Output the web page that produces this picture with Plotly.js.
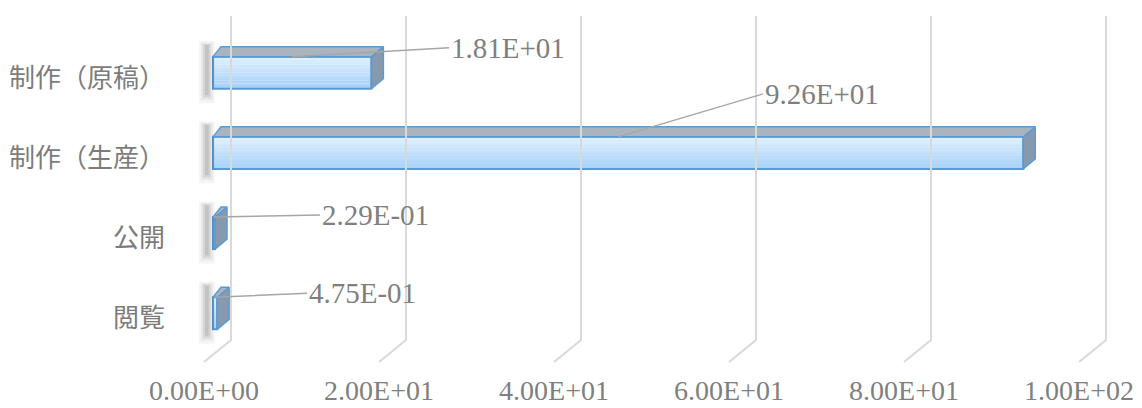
<!DOCTYPE html>
<html>
<head>
<meta charset="utf-8">
<script src="https://cdn.plot.ly/plotly-3.0.1.min.js"></script>
<style>html,body{margin:0;padding:0;background:#fff}#chart{width:1142px;height:408px}</style>
</head>
<body>
<div id="chart"></div>
<script>
// ---- data ----
const categories = ['制作（原稿）', '制作（生産）', '公開', '閲覧'];
const values = [18.1, 92.6, 0.229, 0.475];
const dataLabels = ['1.81E+01', '9.26E+01', '2.29E-01', '4.75E-01'];
const xTicks = [0, 20, 40, 60, 80, 100];
const xTickLabels = ['0.00E+00', '2.00E+01', '4.00E+01', '6.00E+01', '8.00E+01', '1.00E+02'];

// ---- layout constants (style / geometry of the 3D look) ----
const PX = 8.75;          // px per x unit
const PY = 80.2;          // px per category
const Y0 = 77.5;          // px of first category
const yv = p => (p - Y0) / PY;        // pixel row -> y value
const BAR_W = 0.4, BAR_OFF = -0.26;
const DXL = 8 / PX, DXR = 12 / PX, DY = 10 / PY;  // bar depth
const WALL = 27 / PX;     // back wall shift vs floor front
const labelOffsets = [[157, -9], [145, -43], [106, -2], [92, -4]];
const idx = categories.map((_, i) => i);

const traces = [];

// gridlines (back wall + floor) on the floor axis x2
const gx = [], gy = [];
xTicks.forEach(v => {
  gx.push(v + WALL, v + WALL, v, null);
  gy.push(yv(16), yv(340), yv(362), null);
});
traces.push({type: 'scatter', mode: 'lines', x: gx, y: gy, xaxis: 'x2', yaxis: 'y',
  line: {color: '#d9d9d9', width: 2}, hoverinfo: 'skip', showlegend: false});

// soft shadows left of bars (layered for a blur look)
[[16, 0.04, 0.10], [12, 0.05, 0.06], [8, 0.07, 0.03], [4, 0.09, 0.0]].forEach(([w, a, ext]) => {
  const sx = [], sy = [];
  idx.forEach(i => {
    sx.push(-0.7, -0.7, null);
    sy.push(i + BAR_OFF - DY - 0.02 - ext * 0.5, i + BAR_OFF + BAR_W + 0.08 + ext, null);
  });
  traces.push({type: 'scatter', mode: 'lines', x: sx, y: sy,
    line: {color: `rgba(0,0,0,${a})`, width: w, shape: 'linear'},
    hoverinfo: 'skip', showlegend: false});
});

// side and top faces
idx.forEach(i => {
  const v = values[i];
  const top = i + BAR_OFF, bot = i + BAR_OFF + BAR_W;
  traces.push({type: 'scatter', mode: 'lines', fill: 'toself', fillcolor: '#8699ae',
    x: [v, v + DXR, v + DXR, v, v], y: [top, top - DY, bot - DY, bot, top],
    line: {color: '#5b9bd5', width: 1.5}, hoverinfo: 'skip', showlegend: false});
  traces.push({type: 'scatter', mode: 'lines', fill: 'toself', fillcolor: '#a9b4bf',
    x: [0, v, v + DXR, DXL, 0], y: [top, top, top - DY, top - DY, top],
    line: {color: '#5b9bd5', width: 1.5}, hoverinfo: 'skip', showlegend: false});
});

// front face as gradient strips
const N = 12;
const c0 = [222, 239, 254], c1 = [166, 209, 248];
for (let k = 0; k < N; k++) {
  const t = k / (N - 1);
  const c = c0.map((a, j) => Math.round(a + (c1[j] - a) * t));
  traces.push({type: 'bar', orientation: 'h', x: values, y: idx,
    width: BAR_W / N + 0.002, offset: BAR_OFF + k * BAR_W / N,
    marker: {color: `rgb(${c.join(',')})`, line: {width: 0}},
    hoverinfo: 'skip', showlegend: false});
}
// outline
traces.push({type: 'bar', orientation: 'h', x: values, y: idx, width: BAR_W, offset: BAR_OFF,
  marker: {color: 'rgba(0,0,0,0)', line: {color: '#5b9bd5', width: 2}},
  hovertext: categories, showlegend: false});

const annotations = idx.map(i => ({
  x: values[i] / 2, y: i + BAR_OFF, xref: 'x', yref: 'y',
  text: dataLabels[i], showarrow: true, arrowhead: 0, arrowwidth: 1.5, arrowcolor: '#a6a6a6',
  ax: labelOffsets[i][0], ay: labelOffsets[i][1], xanchor: 'left',
  font: {family: 'Liberation Serif, serif', size: 29, color: '#7f7f7f'}
}));

const layout = {
  width: 1142, height: 408,
  margin: {l: 190, r: 32, t: 10, b: 38},
  paper_bgcolor: '#ffffff', plot_bgcolor: '#ffffff',
  barmode: 'overlay',
  xaxis: {range: [-23 / PX, -23 / PX + 920 / PX], showgrid: false, zeroline: false,
    showticklabels: false, ticks: '', showline: false},
  xaxis2: {overlaying: 'x', anchor: 'y', side: 'bottom', range: [-14 / PX, -14 / PX + 920 / PX],
    tickvals: xTicks, ticktext: xTickLabels, showgrid: false, zeroline: false, ticks: '',
    showline: false, ticklabelstandoff: 1,
    tickfont: {family: 'Liberation Serif, serif', size: 28, color: '#7f7f7f'}},
  yaxis: {range: [yv(370), yv(10)], tickvals: idx, ticktext: categories, ticks: '',
    showgrid: false, zeroline: false, showline: false, ticklabelstandoff: 24,
    tickfont: {family: 'Noto Sans CJK JP, sans-serif', size: 26, color: '#7c7c7c'}},
  annotations: annotations,
  showlegend: false
};

Plotly.newPlot('chart', traces, layout, {staticPlot: true, displayModeBar: false});
</script>
</body>
</html>
